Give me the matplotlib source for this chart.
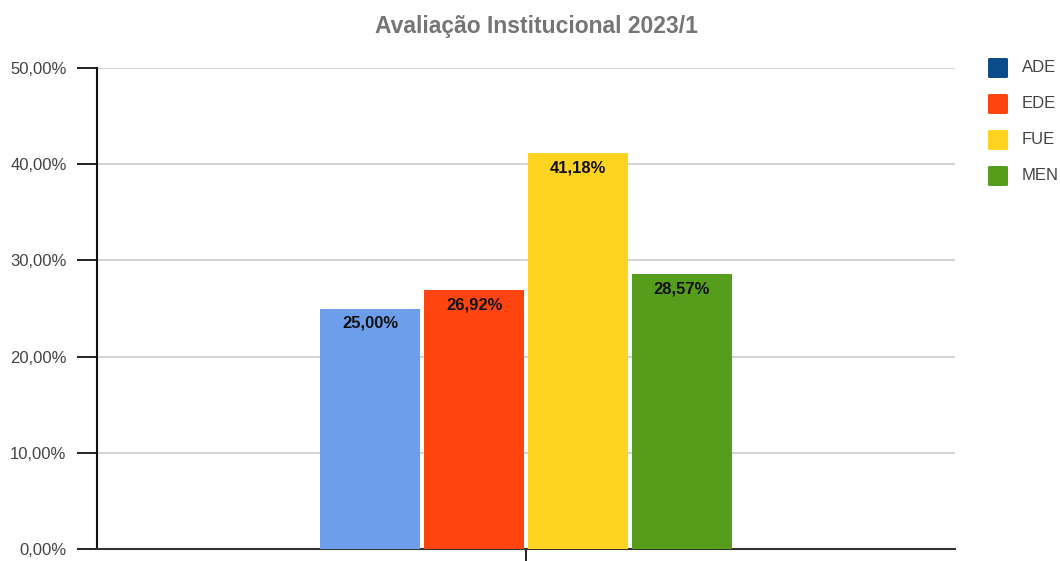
import matplotlib
matplotlib.use("Agg")
import matplotlib.pyplot as plt
from matplotlib.patches import FancyBboxPatch
from matplotlib.ticker import FuncFormatter

categories = ["ADE", "EDE", "FUE", "MEN"]
values = [25.00, 26.92, 41.18, 28.57]
bar_colors = ["#6d9eeb", "#ff4410", "#ffd320", "#579d1c"]
legend_colors = ["#0b4a8b", "#ff4410", "#ffd320", "#579d1c"]
yticks = [0, 10, 20, 30, 40, 50]
title = "Avaliação Institucional 2023/1"

plt.rcParams['font.family'] = ['Liberation Sans', 'DejaVu Sans']

fig = plt.figure(figsize=(10.6, 5.61), dpi=100)
ax = fig.add_axes([97/1060, 1 - 549/561, (955-97)/1060, (549-68)/561])

width = 100/858
step = 103.7/858
n = len(values)
for i, (v, c) in enumerate(zip(values, bar_colors)):
    x = (i - (n-1)/2) * step
    ax.bar(x, v, width=width, color=c, zorder=3)
    ax.text(x, v - 0.75, f"{v:.2f}%".replace(".", ","), ha="center", va="top",
            fontsize=12, fontweight="bold", color="#111111", zorder=4)

ax.set_xlim(-0.5, 0.5)
ax.set_ylim(0, 50)
ax.set_yticks(yticks)
ax.yaxis.set_major_formatter(FuncFormatter(lambda y, p: f"{y:.2f}%".replace(".", ",")))
ax.set_xticks([0])
ax.set_xticklabels([""])
ax.tick_params(axis="y", length=14.4, width=1.3, color="#111111", labelsize=12,
               labelcolor="#444444", pad=7.5)
ax.tick_params(axis="x", length=9, width=1.3, color="#111111")
ax.grid(axis="y", color="#cccccc", linewidth=1.2, zorder=0)
for s in ["top", "right"]:
    ax.spines[s].set_visible(False)
ax.spines["left"].set_linewidth(1.5)
ax.spines["left"].set_color("#111111")
ax.spines["bottom"].set_linewidth(1.5)
ax.spines["bottom"].set_color("#333333")
ax.set_axisbelow(True)

fig.text(536/1060, 1 - 27/561, title, ha="center", va="center", fontsize=16.5,
         fontweight="bold", color="#757575")

# legend
for i, (lab, c) in enumerate(zip(categories, legend_colors)):
    yc = 68 + i * 36
    patch = FancyBboxPatch((988/1060, 1 - (yc + 10)/561), 20/1060, 20/561,
                           boxstyle="round,pad=0,rounding_size=0.002",
                           transform=fig.transFigure, facecolor=c, edgecolor="none")
    fig.patches.append(patch)
    fig.text(1022/1060, 1 - yc/561, lab, ha="left", va="center", fontsize=12,
             color="#444444")

fig.savefig("out.png", dpi=100)
